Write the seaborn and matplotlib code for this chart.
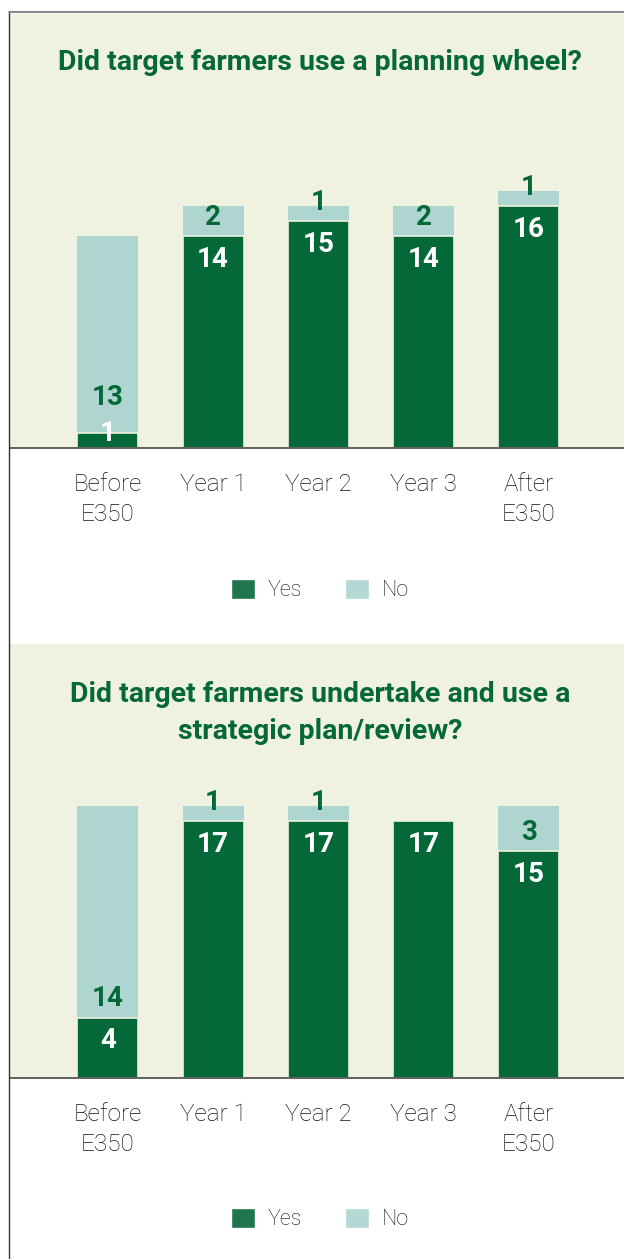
import matplotlib
matplotlib.use("Agg")
import matplotlib.pyplot as plt
from matplotlib.lines import Line2D
from matplotlib.patches import Patch
import seaborn as sns

sns.set_style("white")
plt.rcParams["font.family"] = ["Roboto", "DejaVu Sans"]

# ---- data ----
categories = ["Before\nE350", "Year 1", "Year 2", "Year 3", "After\nE350"]

wheel_title = "Did target farmers use a planning wheel?"
wheel_yes = [1, 14, 15, 14, 16]
wheel_no = [13, 2, 1, 2, 1]

plan_title = "Did target farmers undertake and use a\nstrategic plan/review?"
plan_yes = [4, 17, 17, 17, 15]
plan_no = [14, 1, 1, 0, 3]

legend_labels = ["Yes", "No"]

# ---- styling ----
YES = "#056839"
NO = "#aed5d0"
YES_KEY = "#1f754d"
NO_KEY = "#b3d9d5"
PANEL = "#eff1e1"
TITLE = "#066839"
INK = "#111111"

W, H = 624, 1259
fig = plt.figure(figsize=(W / 100, H / 100), dpi=100)
fig.patch.set_facecolor("white")


def fx(px):
    return px / W


def fy(py):
    return 1 - py / H


def panel(top_px, base_px, title, title_y_px, yes, no, legend_y_px):
    ax = fig.add_axes([fx(10), fy(base_px), fx(W - 10), (base_px - top_px) / H])
    ax.set_facecolor(PANEL)
    totals = [y + n for y, n in zip(yes, no)]

    # "No" stacked on top: draw the totals first, then the "Yes" share over them
    sns.barplot(x=categories, y=totals, color=NO, saturation=1, width=0.58,
                ax=ax, linewidth=0)
    sns.barplot(x=categories, y=yes, color=YES, saturation=1, width=0.58,
                ax=ax, edgecolor=PANEL, linewidth=1.2)

    ax.set_xlim(-0.93, 4.905)
    ax.set_ylim(0, 28.7)
    ax.set_yticks([])
    ax.set_ylabel("")
    ax.set_xlabel("")
    for s in ("top", "left", "right"):
        ax.spines[s].set_visible(False)
    ax.spines["bottom"].set_color("#555555")
    ax.spines["bottom"].set_linewidth(1.3)
    ax.tick_params(axis="x", length=0, pad=18)
    ax.set_xticks(range(len(categories)))
    ax.set_xticklabels(categories, fontsize=17.5, fontweight="light", color=INK,
                       linespacing=1.38)

    for i, (y, n) in enumerate(zip(yes, no)):
        y_lab = max(y - 1.55, 0.95)
        ax.text(i, y_lab, str(y), ha="center", va="center", color="white",
                fontsize=20, fontweight="bold")
        if n > 0:
            n_lab = max(y + 1.25, y_lab + 2.4)
            ax.text(i, n_lab, str(n), ha="center", va="center", color=TITLE,
                    fontsize=20, fontweight="bold")

    fig.text(fx(320), fy(title_y_px), title, ha="center", va="center",
             color=TITLE, fontsize=20.5, fontweight="bold", linespacing=1.45)

    handles = [Patch(facecolor=YES_KEY), Patch(facecolor=NO_KEY)]
    fig.legend(handles, legend_labels, loc="center",
               bbox_to_anchor=(fx(320), fy(legend_y_px)), ncol=2, frameon=False,
               prop={"family": "Roboto", "weight": "light", "size": 15.5},
               labelcolor=INK, handlelength=1.1, handleheight=1.1,
               handletextpad=0.6, columnspacing=2.0)
    return ax


panel(14, 448, wheel_title, 63, wheel_yes, wheel_no, 590)
panel(644, 1078, plan_title, 713, plan_yes, plan_no, 1219)

# frame lines around the page
fig.add_artist(Line2D([fx(9), fx(9)], [fy(12), 0], color="#333333", lw=1.0))
fig.add_artist(Line2D([fx(9), 1], [fy(12), fy(12)], color="#8a8a8a", lw=1.5))

fig.savefig("out.png", dpi=100, facecolor="white")
